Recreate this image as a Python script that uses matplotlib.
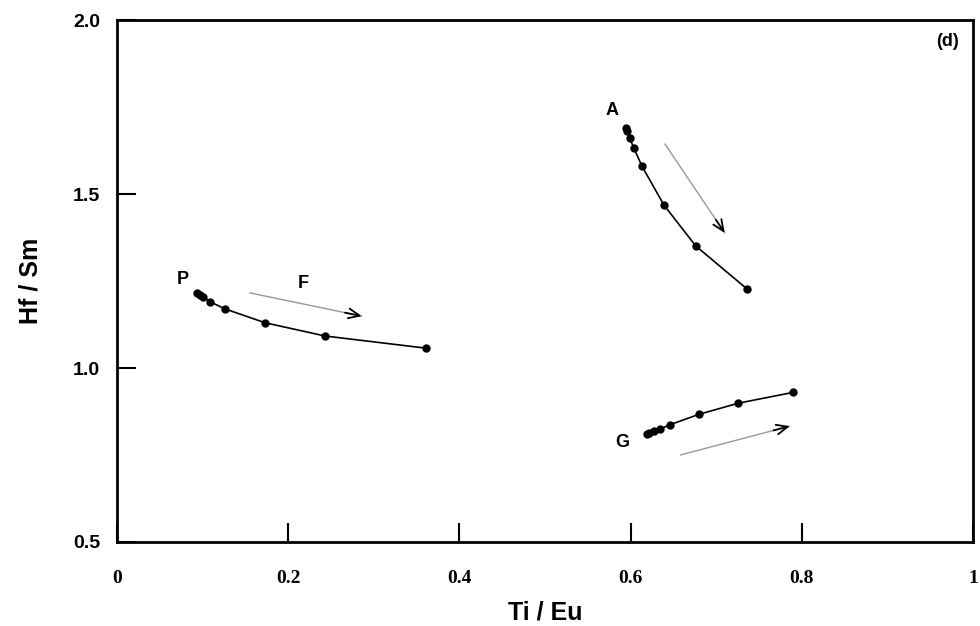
import matplotlib
matplotlib.use('Agg')
import matplotlib.pyplot as plt

# Series P, A, G (Ti/Eu vs Hf/Sm)
p_x = [0.093, 0.097, 0.101, 0.109, 0.126, 0.173, 0.243, 0.361]
p_y = [1.216, 1.210, 1.203, 1.190, 1.170, 1.130, 1.092, 1.057]
a_x = [0.595, 0.596, 0.599, 0.604, 0.613, 0.639, 0.676, 0.736]
a_y = [1.689, 1.681, 1.660, 1.631, 1.581, 1.468, 1.351, 1.227]
g_x = [0.619, 0.622, 0.627, 0.634, 0.646, 0.680, 0.726, 0.790]
g_y = [0.810, 0.814, 0.819, 0.824, 0.837, 0.867, 0.899, 0.930]

x_ticks = [0, 0.2, 0.4, 0.6, 0.8, 1]
x_labels = ['0', '0.2', '0.4', '0.6', '0.8', '1']
y_ticks = [0.5, 1.0, 1.5, 2.0]
y_labels = ['0.5', '1.0', '1.5', '2.0']

fig = plt.figure(figsize=(9.8, 6.26), dpi=100)
ax = fig.add_axes([0.1194, 0.1342, 0.8735, 0.8338])

for xs, ys in [(p_x, p_y), (a_x, a_y), (g_x, g_y)]:
    ax.plot(xs, ys, color='black', lw=1.2, marker='o', ms=5, mfc='black', mec='black')

# arrows: grey shaft, black open head
arrows = [((0.155, 1.216), (0.286, 1.149)),
          ((0.640, 1.644), (0.710, 1.388)),
          ((0.658, 0.750), (0.786, 0.833))]
for start, end in arrows:
    ax.annotate('', xy=end, xytext=start,
                arrowprops=dict(arrowstyle='-', color='#999999', lw=1.0, shrinkA=0, shrinkB=0))
    fx = start[0] + (end[0] - start[0]) * 0.85
    fy = start[1] + (end[1] - start[1]) * 0.85
    ax.annotate('', xy=end, xytext=(fx, fy),
                arrowprops=dict(arrowstyle='->,head_length=0.8,head_width=0.35', color='black',
                                lw=1.3, shrinkA=0, shrinkB=0))

lab = dict(fontsize=13, fontweight='bold', family='Liberation Sans', ha='center', va='center')
ax.text(0.077, 1.254, 'P', **lab)
ax.text(0.217, 1.243, 'F', **lab)
ax.text(0.578, 1.741, 'A', **lab)
ax.text(0.590, 0.787, 'G', **lab)
ax.text(0.970, 1.937, '(d)', **lab)

ax.set_xlim(0, 1)
ax.set_ylim(0.5, 2.0)
ax.set_xticks(x_ticks)
ax.set_xticklabels(x_labels, family='Liberation Serif', fontweight='bold', fontsize=14)
ax.set_yticks(y_ticks)
ax.set_yticklabels(y_labels, family='Liberation Sans', fontweight='bold', fontsize=14)
ax.tick_params(direction='in', length=14, width=1.5, top=False, right=False)
ax.tick_params(axis='x', pad=20)
ax.tick_params(axis='y', pad=12)
for s in ax.spines.values():
    s.set_linewidth(2)

ax.set_xlabel('Ti / Eu', family='Liberation Sans', fontweight='bold', fontsize=18, labelpad=10)
ax.set_ylabel('Hf / Sm', family='Liberation Sans', fontweight='bold', fontsize=18, labelpad=22)

fig.savefig('out.png', dpi=100)
